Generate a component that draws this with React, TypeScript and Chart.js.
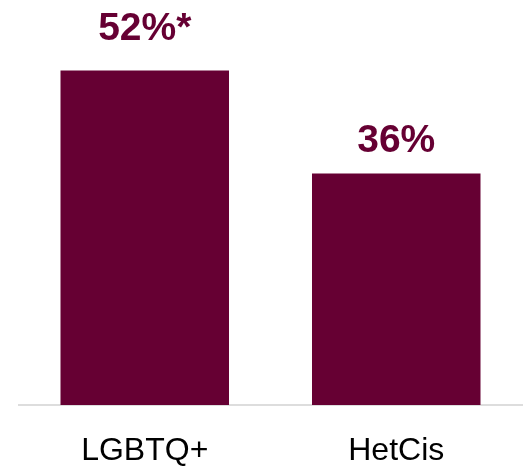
import React, { useEffect, useRef } from "react";
import { Chart, registerables } from "chart.js";

Chart.register(...registerables);

const categories = ["LGBTQ+", "HetCis"];
const values = [52, 36];
const valueLabels = ["52%*", "36%"];

const BAR_COLOR = "#660033";

const valueLabelPlugin = {
  id: "valueLabels",
  afterDatasetsDraw(chart: any, _args: any, opts: any) {
    const ctx = chart.ctx;
    const meta = chart.getDatasetMeta(0);
    ctx.save();
    ctx.fillStyle = BAR_COLOR;
    ctx.font = "bold 39px 'Liberation Sans', Arial, sans-serif";
    ctx.textAlign = "center";
    ctx.textBaseline = "alphabetic";
    meta.data.forEach((el: any, i: number) => {
      const off = (opts.offsets && opts.offsets[i]) || 25;
      ctx.fillText(valueLabels[i], el.x, el.y - off);
    });
    ctx.restore();
  },
};

export default function App() {
  const ref = useRef<HTMLCanvasElement | null>(null);
  useEffect(() => {
    document.body.style.margin = "0";
    const chart = new Chart(ref.current as HTMLCanvasElement, {
      type: "bar",
      data: {
        labels: categories,
        datasets: [
          {
            data: values,
            backgroundColor: BAR_COLOR,
            borderWidth: 0,
            barPercentage: 0.67,
            categoryPercentage: 1,
          },
        ],
      },
      options: {
        responsive: false,
        animation: false,
        layout: { padding: { top: 19, left: 19, right: 3, bottom: 0 } },
        plugins: {
          legend: { display: false },
          tooltip: { enabled: false },
          valueLabels: { offsets: [30, 21] },
        } as any,
        scales: {
          x: {
            grid: { display: false, drawTicks: false },
            border: { display: true, color: "#dddddd", width: 2 },
            ticks: {
              color: "#000000",
              font: { family: "'Liberation Sans', Arial, sans-serif", size: 32 },
              padding: 27,
            },
            afterFit: (scale: any) => {
              scale.height = 63;
            },
          },
          y: {
            display: false,
            min: 0,
            max: 60,
          },
        },
      },
      plugins: [valueLabelPlugin],
    });
    return () => chart.destroy();
  }, []);
  return (
    <div style={{ position: "absolute", left: 0, top: 0, width: 525, height: 468 }}>
      <canvas ref={ref} width={525} height={468} style={{ display: "block" }} />
    </div>
  );
}
